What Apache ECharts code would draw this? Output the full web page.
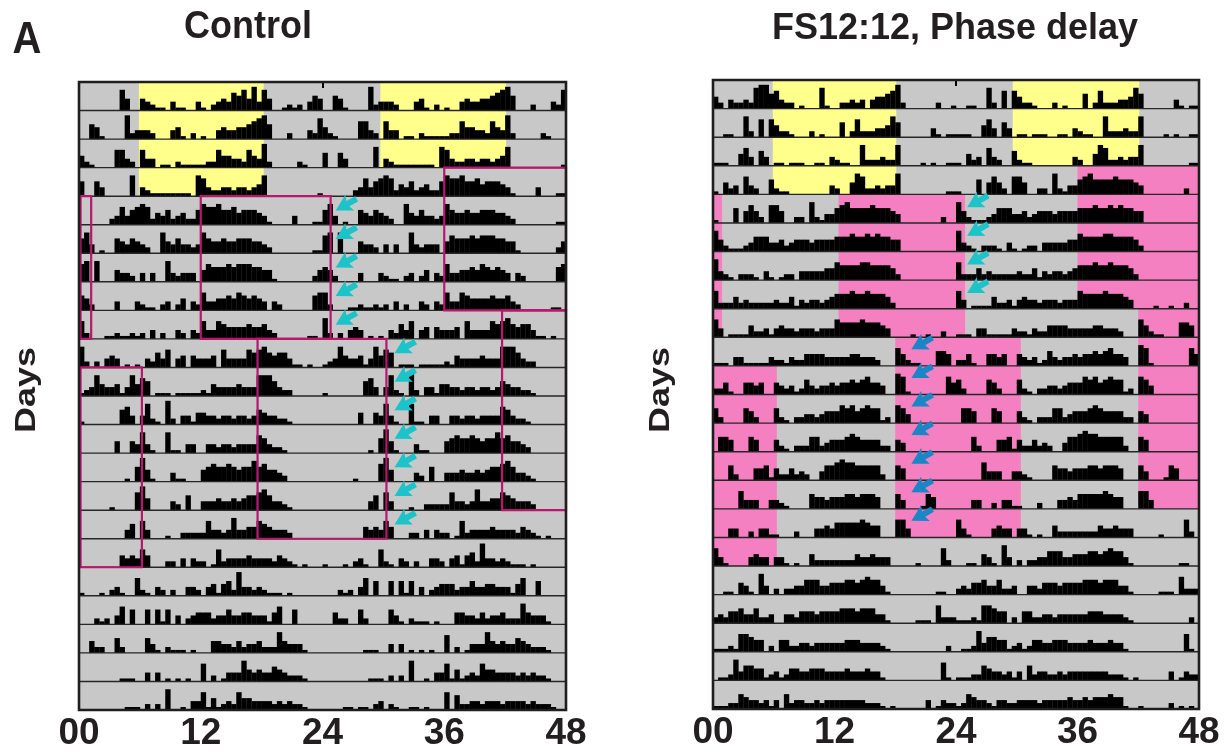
<!DOCTYPE html>
<html>
<head>
<meta charset="utf-8">
<script src="https://cdn.jsdelivr.net/npm/echarts/dist/echarts.min.js"></script>
<style>
  html, body { margin: 0; padding: 0; background: #ffffff; }
  #chart { width: 1224px; height: 755px; }
</style>
</head>
<body>
<div id="chart"></div>
<script>
// Double-plotted actograms: each row shows day n (00-24 h) followed by day n+1 (24-48 h).
// Activity is binned in 30-minute bins (48 per day), level 0-9.

const HOUR_TICKS = ['00', '12', '24', '36', '48'];
const BIN_HOURS = 0.5;

const controlDays = [
  [0,0,0,0, 0,0,0,0, 7,4,0,0, 4,3,2,1, 1,0,3,1, 1,0,0,3, 1,0,2,3, 4,3,6,5, 7,4,8,3, 7,4,0,0, 1,2,1,2, 0,3,5,4],
  [0,0,5,4, 1,0,0,0, 0,8,2,3, 3,3,2,0, 0,0,3,4, 1,0,2,0, 1,0,0,3, 4,3,3,4, 4,5,6,7, 8,5,0,0, 0,2,0,0, 0,3,2,7],
  [4,2,1,0, 0,0,0,6, 6,3,2,0, 6,3,3,0, 1,1,0,2, 1,1,1,1, 1,2,2,6, 4,4,3,3, 2,6,4,3, 8,2,0,0, 0,0,0,2, 1,0,0,0],
  [5,0,0,5, 3,0,0,0, 0,0,7,0, 3,2,1,1, 1,1,1,1, 1,1,0,7, 6,3,2,2, 3,3,2,3, 3,2,3,4, 7,0,0,0, 0,0,0,0, 0,0,0,1],
  [0,0,0,0, 0,0,2,3, 6,3,5,6, 7,6,2,4, 3,5,2,3, 4,2,2,5, 7,6,6,7, 5,5,6,4, 5,5,5,4, 3,1,0,0, 0,0,3,0, 0,0,1,1],
  [5,7,3,0, 1,0,0,5, 4,3,5,4, 3,2,0,0, 7,4,3,5, 3,3,2,3, 7,5,4,4, 5,4,4,5, 5,5,4,4, 3,2,0,0, 0,0,0,0, 0,0,1,1],
  [6,7,0,7, 0,0,0,4, 3,3,2,0, 3,0,3,0, 0,7,3,2, 3,3,3,0, 4,6,5,5, 5,6,5,6, 6,6,5,5, 4,4,1,0, 0,0,0,0, 0,0,2,4],
  [5,4,2,0, 0,0,0,3, 0,0,0,3, 2,1,1,0, 2,3,0,2, 4,0,3,2, 6,3,3,4, 4,5,4,6, 5,4,5,4, 3,0,3,2, 0,0,0,0, 0,0,5,6],
  [6,2,0,0, 0,1,1,2, 1,1,2,1, 2,0,3,0, 2,0,0,3, 2,0,3,2, 6,3,3,6, 5,4,4,4, 4,5,4,4, 5,3,2,0, 0,0,0,0, 0,1,1,0],
  [7,2,0,2, 0,3,4,3, 0,1,0,1, 0,3,2,5, 3,6,0,3, 4,0,4,3, 3,3,4,0, 6,3,3,3, 3,6,5,6, 7,5,4,5, 5,3,1,1, 0,1,0,0],
  [1,2,3,7, 4,3,3,4, 1,3,7,4, 6,5,0,1, 1,1,0,1, 1,1,1,1, 2,1,4,3, 3,3,3,4, 3,3,3,7, 7,7,5,3, 2,2,0,0, 0,0,0,0],
  [1,0,0,0, 0,0,0,0, 5,6,3,0, 3,7,2,1, 0,8,2,0, 3,3,1,4, 4,3,3,2, 3,3,2,3, 3,2,3,5, 4,3,3,2, 2,1,0,0, 0,0,0,0],
  [0,0,0,0, 0,0,0,4, 0,0,4,3, 7,3,1,0, 0,7,1,1, 0,3,3,0, 0,3,3,2, 3,3,2,3, 3,3,3,6, 5,3,2,2, 1,0,0,0, 0,0,0,0],
  [0,0,0,0, 0,0,0,0, 0,1,0,5, 8,4,1,0, 0,0,3,1, 1,0,0,0, 4,5,6,5, 5,6,5,4, 5,5,7,5, 6,4,4,3, 2,0,0,0, 0,0,0,0],
  [0,0,0,0, 0,0,1,0, 0,0,0,6, 8,4,0,0, 0,0,3,2, 0,5,0,0, 3,3,3,4, 3,3,4,3, 4,5,5,6, 7,5,3,3, 2,1,0,0, 0,0,0,0],
  [0,0,0,0, 0,0,0,0, 0,3,5,0, 6,3,0,0, 0,1,0,0, 2,2,2,2, 2,6,3,3, 2,3,7,3, 3,4,4,6, 5,4,3,3, 3,2,0,0, 0,0,0,0],
  [0,0,0,0, 0,0,0,0, 4,3,4,3, 6,4,0,0, 0,2,2,0, 3,0,3,2, 2,0,1,6, 2,3,3,3, 3,4,3,3, 3,3,2,4, 3,2,1,0, 1,0,0,0],
  [1,0,0,0, 1,0,2,3, 1,0,0,6, 2,1,0,3, 2,0,2,0, 0,3,3,2, 0,3,4,1, 4,5,2,8, 3,3,2,3, 2,1,1,1, 0,1,0,0, 0,0,0,0],
  [0,0,0,2, 1,2,0,3, 6,0,5,0, 0,5,0,5, 1,5,0,3, 0,2,3,4, 4,4,2,3, 3,5,3,3, 4,4,3,3, 3,1,4,6, 0,0,5,0, 0,0,0,0],
  [0,0,4,2, 2,0,0,5, 2,0,0,0, 0,5,3,1, 0,2,1,1, 1,0,1,0, 0,0,4,4, 3,3,2,4, 2,3,3,4, 2,2,2,7, 4,3,3,3, 1,0,0,0],
  [0,0,0,0, 0,0,0,0, 1,1,1,0, 0,3,0,3, 0,1,0,1, 0,1,0,0, 6,0,2,0, 1,3,3,3, 7,4,3,4, 3,3,5,4, 3,2,2,2, 1,0,0,0],
  [0,0,0,0, 0,0,0,0, 0,1,1,1, 0,2,0,2, 0,7,0,0, 1,0,3,3, 6,1,4,1, 2,3,2,6, 4,4,3,3, 3,3,2,3, 2,3,2,2, 1,0,0,0],
  [0,0,0,0, 1,1,0,1, 1,0,2,3, 0,2,1,0, 0,1,1,0, 1,0,0,0, 6,0,5,2, 2,3,3,2, 3,3,3,2, 3,3,3,3, 2,3,2,2, 2,1,0,0]
];

const fsDays = [
  [4,2,0,3, 2,2,3,2, 7,8,8,5, 6,3,2,2, 0,1,0,0, 0,7,1,0, 0,2,2,3, 2,3,0,3, 4,4,5,6, 8,2,0,0, 0,0,0,0, 2,0,0,1],
  [0,0,1,1, 0,0,7,2, 0,6,0,6, 4,2,2,1, 0,0,0,2, 0,1,0,0, 0,5,0,2, 6,2,2,2, 3,3,4,7, 5,0,0,0, 0,0,0,3, 1,0,1,1],
  [1,1,1,0, 0,4,6,3, 0,5,3,0, 1,1,0,1, 1,1,0,0, 1,1,0,3, 2,1,1,0, 0,7,2,2, 2,3,2,2, 7,0,0,0, 0,1,0,1, 0,0,1,1],
  [1,0,4,2, 3,0,6,3, 2,0,0,5, 2,1,1,0, 0,0,0,0, 0,0,0,3, 2,0,0,4, 7,6,2,2, 3,2,3,3, 7,0,0,0, 0,0,0,0, 0,0,1,1],
  [1,0,0,0, 5,0,4,6, 4,2,0,6, 6,4,0,0, 2,2,0,7, 2,1,3,3, 5,6,7,5, 5,5,5,6, 5,5,5,4, 3,0,0,0, 0,0,0,0, 0,2,0,0],
  [7,4,2,1, 1,1,2,3, 5,5,5,3, 3,4,2,3, 4,4,4,3, 4,4,4,4, 5,5,5,6, 5,5,6,5, 6,5,5,4, 4,0,0,0, 0,0,0,0, 0,0,0,0],
  [7,3,2,1, 0,2,2,2, 1,0,3,1, 0,1,2,2, 0,3,3,3, 3,3,4,4, 6,5,5,5, 5,6,6,5, 5,5,5,4, 2,0,0,0, 0,0,0,0, 0,0,0,0],
  [6,2,2,2, 4,2,3,2, 2,2,2,2, 3,2,2,4, 1,3,2,3, 3,2,3,4, 5,5,5,6, 5,5,6,5, 5,5,4,2, 0,0,0,0, 0,0,0,0, 0,0,0,0],
  [6,3,0,1, 1,1,1,4, 2,2,3,1, 3,4,3,3, 2,3,3,3, 2,3,3,3, 6,5,5,5, 5,6,5,5, 5,4,3,0, 0,0,0,1, 0,0,1,0, 0,2,0,0],
  [1,1,1,0, 3,3,1,1, 1,1,1,3, 2,2,1,3, 2,2,4,4, 4,4,3,3, 3,3,3,4, 4,3,3,3, 2,0,0,0, 6,4,2,1, 1,0,0,0, 5,5,4,0],
  [2,2,4,1, 0,0,4,4, 3,4,0,0, 4,3,2,3, 1,2,5,3, 2,3,3,4, 3,4,4,5, 4,5,6,4, 4,3,0,0, 7,6,1,0, 0,0,0,0, 0,0,6,4],
  [5,2,0,0, 0,0,5,4, 2,0,0,0, 5,2,1,0, 2,2,3,3, 2,3,4,4, 4,6,5,6, 4,5,6,5, 5,1,2,0, 6,5,3,0, 0,0,0,0, 0,0,0,0],
  [0,5,5,4, 0,0,0,5, 4,0,0,0, 4,2,1,0, 2,2,2,5, 5,2,3,4, 4,4,5,6, 5,4,4,4, 4,2,2,0, 4,3,0,0, 0,0,0,0, 0,0,0,0],
  [0,0,0,5, 2,0,0,0, 4,4,5,1, 4,2,2,4, 2,3,2,0, 0,3,5,5, 6,7,6,6, 5,5,5,5, 5,2,0,0, 5,4,0,0, 0,0,0,0, 0,0,0,0],
  [0,0,0,0, 0,6,3,3, 3,0,0,3, 3,2,1,0, 0,0,0,5, 4,4,3,4, 4,4,5,5, 4,5,5,5, 4,0,0,0, 5,3,0,0, 0,1,5,4, 0,0,0,0],
  [0,0,0,3, 3,0,0,2, 0,3,3,1, 1,0,0,0, 2,0,0,0, 3,3,4,3, 5,5,5,5, 5,6,5,4, 4,0,0,0, 6,6,3,0, 0,0,0,0, 0,0,0,0],
  [6,3,1,0, 0,0,0,3, 4,3,3,0, 3,3,1,0, 1,0,0,4, 2,2,2,2, 2,2,2,2, 4,3,3,4, 3,3,3,0, 0,0,0,0, 1,0,0,0, 0,6,2,0],
  [0,0,1,1, 0,4,3,1, 0,7,3,0, 2,0,2,2, 3,3,5,5, 5,3,3,4, 4,4,5,5, 4,5,6,5, 5,3,1,0, 0,0,0,0, 0,0,0,0, 1,1,0,0],
  [2,3,2,4, 4,5,3,3, 5,2,2,3, 0,0,3,3, 2,4,4,4, 3,4,4,4, 4,5,5,5, 4,5,5,5, 3,3,1,0, 0,0,0,0, 1,1,1,0, 6,2,2,2],
  [1,1,1,2, 1,6,6,5, 4,4,0,2, 0,4,4,2, 2,3,3,2, 3,3,3,3, 3,3,4,4, 4,3,3,3, 3,2,1,0, 0,0,0,0, 0,0,0,0, 0,0,2,0],
  [0,1,1,2, 7,3,5,5, 4,4,1,2, 3,1,2,4, 4,3,3,4, 4,4,3,3, 3,3,4,3, 3,3,4,3, 3,1,0,0, 0,0,0,0, 0,0,0,0, 0,6,1,0],
  [1,1,1,2, 2,5,4,3, 3,2,3,1, 3,0,5,2, 3,3,2,2, 3,2,3,3, 3,3,3,3, 3,3,2,2, 2,1,0,1, 0,0,0,0, 0,0,3,0, 1,3,2,2],
  [1,2,5,4, 3,3,2,1, 3,3,2,2, 3,3,3,3, 2,3,3,3, 3,3,4,3, 3,4,3,4, 4,4,5,4, 4,1,0,0, 1,0,0,0, 0,0,2,0, 1,0,1,0]
];

// Light phase blocks: [startHour, endHour, firstRow, endRow)
const controlLight = [[5.9, 18.2, 0, 4], [29.7, 42.1, 0, 3]];
const fsLight = [[5.9, 18.1, 0, 4], [29.6, 42.1, 0, 3]];

// Food-availability windows (filled) and activity-onset boxes (outlined)
const fsFood = [[36, 48, 3, 8], [0, 0.9, 4, 9], [12.4, 24.9, 4, 9], [42, 48, 8, 15], [18, 30.4, 9, 16], [0, 6.3, 10, 17]];
const controlBoxes = [[36, 48, 3, 8], [0.15, 1.2, 4, 9], [12, 24.8, 4, 9], [41.7, 48, 8, 15], [17.6, 30.3, 9, 16], [0.15, 6.2, 10, 17]];

// Arrow tips: [hour, row]
const controlArrows = [
  [25.3, 4], [25.3, 5], [25.3, 6], [25.3, 7], [25.3, 8],
  [31.1, 9], [31.1, 10], [31.1, 11], [31.1, 12], [31.1, 13], [31.1, 14], [31.1, 15]
];
const fsArrowsCyan = [[25.1, 4], [25.1, 5], [25.1, 6], [25.1, 7]];
const fsArrowsBlue = [[19.6, 9], [19.6, 10], [19.6, 11], [19.6, 12], [19.6, 13], [19.6, 14], [19.6, 15]];

const FONT = '"Liberation Sans", Arial, Helvetica, sans-serif';
const INK = '#231f20';
const LEVEL_SCALE = 0.104;

function actogramBars(days) {
  const out = [];
  for (let r = 0; r < days.length - 1; r++) {
    [days[r], days[r + 1]].forEach(function (day, half) {
      day.forEach(function (v, b) {
        if (v > 0) out.push([half * 24 + b * BIN_HOURS, r, v]);
      });
    });
  }
  return out;
}

function renderBar(params, api) {
  const x = api.value(0), r = api.value(1), v = api.value(2);
  const p0 = api.coord([x, r + 1]);
  const p1 = api.coord([x + BIN_HOURS, r + 1 - v * LEVEL_SCALE]);
  return {
    type: 'rect',
    shape: { x: p0[0], y: p1[1], width: p1[0] - p0[0] + 0.3, height: p0[1] - p1[1] },
    style: { fill: '#000000' }
  };
}

function rectRenderer(style) {
  return function (params, api) {
    const p0 = api.coord([api.value(0), api.value(2)]);
    const p1 = api.coord([api.value(1), api.value(3)]);
    return {
      type: 'rect',
      shape: { x: Math.min(p0[0], p1[0]), y: Math.min(p0[1], p1[1]),
               width: Math.abs(p1[0] - p0[0]), height: Math.abs(p1[1] - p0[1]) },
      style: style
    };
  };
}

function renderRowLine(params, api) {
  const r = api.value(0);
  const a = api.coord([0, r + 1]);
  const b = api.coord([48, r + 1]);
  return { type: 'line', shape: { x1: a[0], y1: a[1], x2: b[0], y2: b[1] },
           style: { stroke: '#262626', lineWidth: 1.4 } };
}

function arrowRenderer(color, frac) {
  // arrow with its tip at the data point, shaft pointing up and to the right
  const ang = -29 * Math.PI / 180;
  const d = [Math.cos(ang), Math.sin(ang)];
  const n = [-Math.sin(ang), Math.cos(ang)];
  const local = [[0, 0], [16, -9], [14, -3], [24, -3], [24, 3], [14, 3], [16, 9]];
  return function (params, api) {
    const tip = api.coord([api.value(0), api.value(1) + frac]);
    const pts = local.map(function (p) {
      return [tip[0] + p[0] * d[0] + p[1] * n[0], tip[1] + p[0] * d[1] + p[1] * n[1]];
    });
    return { type: 'polygon', shape: { points: pts }, style: { fill: color } };
  };
}

function panelSeries(idx, days, light, food, boxes, arrowSets) {
  const rows = days.length - 1;
  const rowIdx = [];
  for (let r = 0; r < rows - 1; r++) rowIdx.push([r]);
  const s = [];
  const base = { type: 'custom', xAxisIndex: idx, yAxisIndex: idx, animation: false, progressive: 0, silent: true };
  s.push(Object.assign({}, base, { z: 1, data: light, renderItem: rectRenderer({ fill: '#ffff8c' }) }));
  if (food.length) s.push(Object.assign({}, base, { z: 1, data: food, renderItem: rectRenderer({ fill: '#f47fc1' }) }));
  s.push(Object.assign({}, base, { z: 2, data: actogramBars(days), renderItem: renderBar }));
  s.push(Object.assign({}, base, { z: 3, data: rowIdx, renderItem: renderRowLine }));
  if (boxes.length) s.push(Object.assign({}, base, { z: 4, data: boxes,
    renderItem: rectRenderer({ fill: 'none', stroke: '#b8166f', lineWidth: 2.2 }) }));
  s.push(Object.assign({}, base, { z: 5, data: [[0, 48, 0, rows]],
    renderItem: rectRenderer({ fill: 'none', stroke: '#1e1e1e', lineWidth: 2.6 }) }));
  arrowSets.forEach(function (a) {
    s.push(Object.assign({}, base, { z: 6, data: a.data, renderItem: arrowRenderer(a.color, a.frac) }));
  });
  return s;
}

function xAxisFor(idx) {
  return {
    type: 'value', gridIndex: idx, min: 0, max: 48, interval: 12,
    axisLine: { show: true, lineStyle: { color: '#000', width: 2 } },
    axisTick: { show: true, length: 6, lineStyle: { color: '#000', width: 2 } },
    splitLine: { show: false },
    axisLabel: {
      showMinLabel: true, showMaxLabel: true, margin: 5,
      formatter: function (v) { return HOUR_TICKS[Math.round(v / 12)]; },
      fontFamily: FONT, fontWeight: 'bold', fontSize: 37, color: INK
    }
  };
}

function yAxisFor(idx, rows) {
  return { type: 'value', gridIndex: idx, min: 0, max: rows, inverse: true, show: false };
}

function label(text, x, y, size, extra) {
  return Object.assign({
    type: 'text', x: x, y: y, silent: true,
    style: { text: text, font: 'bold ' + size + 'px ' + FONT, fill: INK,
             textAlign: 'center', align: 'center', textVerticalAlign: 'middle', verticalAlign: 'middle' }
  }, extra || {});
}

const chart = echarts.init(document.getElementById('chart'), null, { renderer: 'canvas' });
const rowsC = controlDays.length - 1;
const rowsF = fsDays.length - 1;

chart.setOption({
  animation: false,
  backgroundColor: '#ffffff',
  grid: [
    { left: 79, top: 82, width: 487, height: 628, show: true, backgroundColor: '#c8c8c8', borderWidth: 0 },
    { left: 713, top: 80, width: 486, height: 629, show: true, backgroundColor: '#c8c8c8', borderWidth: 0 }
  ],
  xAxis: [xAxisFor(0), xAxisFor(1)],
  yAxis: [yAxisFor(0, rowsC), yAxisFor(1, rowsF)],
  series: [].concat(
    panelSeries(0, controlDays, controlLight, [], controlBoxes,
      [{ data: controlArrows, color: '#1cc4ca', frac: 0.5 }]),
    panelSeries(1, fsDays, fsLight, fsFood, [],
      [{ data: fsArrowsCyan, color: '#1cc4ca', frac: 0.45 },
       { data: fsArrowsBlue, color: '#1a86c6', frac: 0.42 }])
  ),
  graphic: [
    label('A', 27, 41, 40, { scaleY: 1.12 }),
    label('Control', 248, 27, 36, { scaleY: 1.08 }),
    label('FS12:12, Phase delay', 955, 29, 36),
    label('Days', 27, 390, 29, { rotation: Math.PI / 2, scaleX: 1.24 }),
    label('Days', 661, 390, 29, { rotation: Math.PI / 2, scaleX: 1.24 })
  ]
});
</script>
</body>
</html>
